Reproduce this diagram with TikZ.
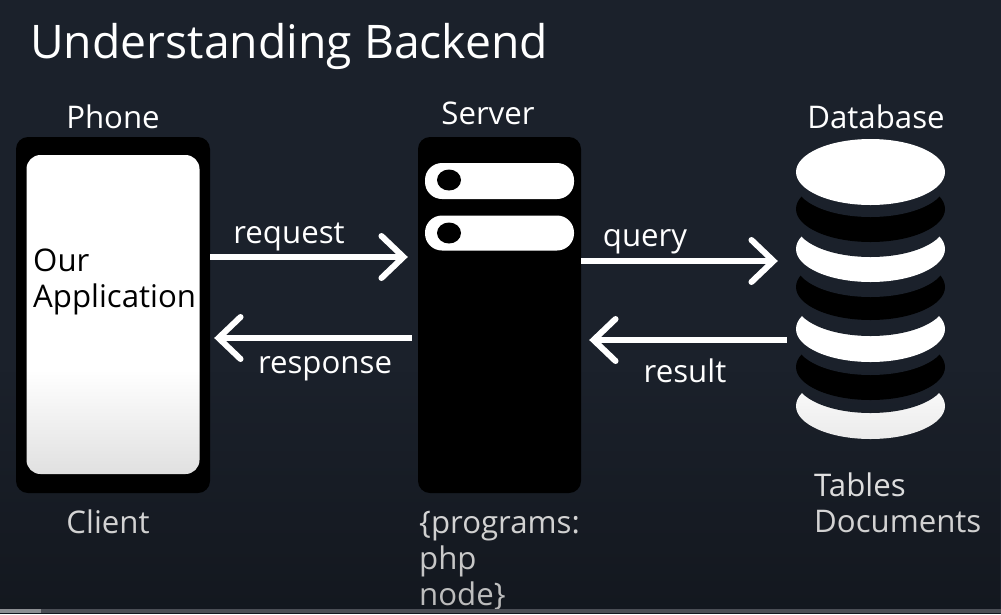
\documentclass[tikz,border=0pt]{standalone}
\usepackage{fontspec}
\setmainfont{Open Sans}
\usetikzlibrary{positioning,arrows.meta,shapes.geometric,fadings}
\definecolor{slide}{RGB}{27,33,43}
\definecolor{track}{RGB}{74,78,85}
\definecolor{played}{RGB}{140,143,147}
\tikzfading[name=fade bottom, top color=transparent!100, bottom color=transparent!72]
\tikzset{
	device/.style={rectangle,fill=black,rounded corners=12,inner sep=0,minimum width=#1,minimum height=356},
	slot/.style={rectangle,fill=white,rounded corners=17,inner sep=0,minimum width=149},
	dot/.style={ellipse,fill=black,inner sep=0,minimum width=24,minimum height=21},
	platter/.style={ellipse,fill=#1,inner sep=0,minimum width=149,minimum height=66},
	flow/.style={draw=white,line width=6,-{Straight Barb[length=22,width=42,line cap=round]}},
	lbl/.style={text=white,inner sep=0,anchor=base,font=\fontsize{31.2}{36}\selectfont},
	lblleft/.style={lbl,anchor=base west,align=left}
}
\begin{document}
\begin{tikzpicture}[x=1pt,y=-1pt]
	\useasboundingbox (0,0) rectangle (1001,614);
	\fill[slide] (0,0) rectangle (1001,614);

	\node[lbl,anchor=base west,font=\fontsize{46.3}{50}\selectfont] (title) at (30,58) {Understanding Backend};

	% phone
	\node[device=194] (phone) at (113,315) {};
	\node[rectangle,fill=white,rounded corners=14,inner sep=0,minimum width=173,minimum height=319] (screen) at (113,314.5) {};
	\node[lbl] (phonelbl) at (113,128) {Phone};
	\node[lblleft,text=black] (app) at (33,307) {Our\\Application};
	\node[lbl] (client) at (108,533) {Client};

	% server
	\node[device=163] (server) at (499.5,315) {};
	\node[slot,minimum height=36] (slotA) at (499.5,181) {};
	\node[slot,minimum height=35] (slotB) at (499.5,233) {};
	\node[dot] (dotA) at (449,180) {};
	\node[dot] (dotB) at (449,233) {};
	\node[lbl] (serverlbl) at (488,124) {Server};
	\node[lblleft] (programs) at (419,605) {\{programs:\\php\\node\}};

	% database, bottom platter first
	\node[platter=white] (dbF) at (870.5,406) {};
	\node[platter=slide] (gapE) at (870.5,380) {};
	\node[platter=black] (dbE) at (870.5,367) {};
	\node[platter=slide] (gapD) at (870.5,342) {};
	\node[platter=white] (dbD) at (870.5,329) {};
	\node[platter=slide] (gapC) at (870.5,303) {};
	\node[platter=black] (dbC) at (870.5,287) {};
	\node[platter=slide] (gapB) at (870.5,264) {};
	\node[platter=white] (dbB) at (870.5,249) {};
	\node[platter=slide] (gapA) at (870.5,224) {};
	\node[platter=black] (dbA) at (870.5,209) {};
	\node[platter=slide] (gapTop) at (870.5,184) {};
	\node[platter=white] (dbTop) at (870.5,172) {};
	\node[lbl] (dblbl) at (876,128) {Database};
	\node[lblleft] (tables) at (814,532) {Tables\\Documents};

	% connectors
	\coordinate (reqlevel) at (0,257);
	\coordinate (reslevel) at (0,338);
	\coordinate (qrylevel) at (0,261);
	\coordinate (rltlevel) at (0,340);
	\draw[flow] (phone.east |- reqlevel) -- ([xshift=-10]server.west |- reqlevel);
	\draw[flow] ([xshift=-6]server.west |- reslevel) -- ([xshift=4]phone.east |- reslevel);
	\draw[flow] (server.east |- qrylevel) -- ([xshift=-18]dbTop.west |- qrylevel);
	\draw[flow] ([xshift=-9]dbTop.west |- rltlevel) -- ([xshift=8]server.east |- rltlevel);
	\node[lbl] (request) at (289,243) {request};
	\node[lbl] (response) at (325,373) {response};
	\node[lbl] (query) at (645,246) {query};
	\node[lbl] (result) at (685,382) {result};

	% darkening towards the bottom, then the player bar
	\fill[black,path fading=fade bottom] (0,370) rectangle (1001,614);
	\fill[track] (0,609) rectangle (1001,613);
	\fill[played] (0,609) rectangle (41,613);
\end{tikzpicture}
\end{document}
